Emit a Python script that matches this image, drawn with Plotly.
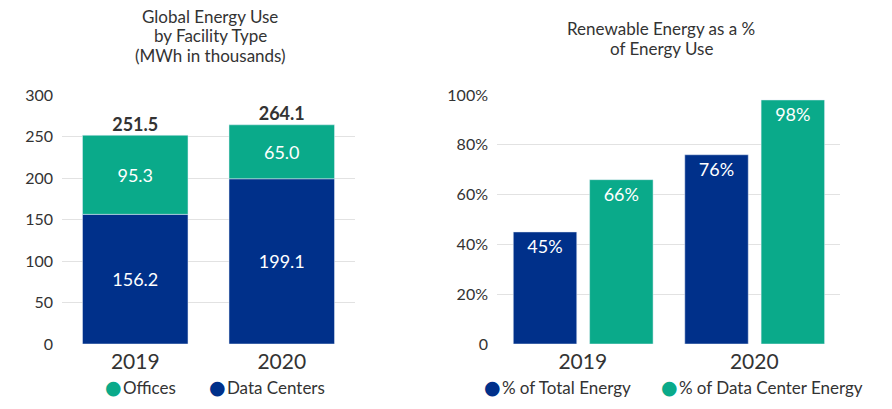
import plotly.graph_objects as go

years = ["2019", "2020"]
data_centers = [156.2, 199.1]
offices = [95.3, 65.0]
totals = [251.5, 264.1]

pct_total = [45, 76]
pct_dc = [66, 98]

left_ticks = [0, 50, 100, 150, 200, 250, 300]
right_ticks = [0, 20, 40, 60, 80, 100]
right_ticktext = ["0", "20%", "40%", "60%", "80%", "100%"]

left_title = ["Global Energy Use", "by Facility Type", "(MWh in thousands)"]
right_title = ["Renewable Energy as a %", "of Energy Use"]

NAVY = "#00308A"
GREEN = "#0AAA8A"
TXT = "#333333"
GRID = "#E2E2E2"
FONT = "Lato"

W, H = 892, 409
T, B = 95, 65
PH = H - T - B

fig = go.Figure()

# Left chart: stacked (offices sit on top of data centers)
fig.add_trace(go.Bar(x=years, y=data_centers, marker_color=NAVY, width=0.72,
                     text=[f"{v:.1f}" for v in data_centers], textposition="inside",
                     insidetextanchor="middle", textfont=dict(color="white", size=18, family=FONT),
                     showlegend=False, xaxis="x", yaxis="y", hoverinfo="skip"))
fig.add_trace(go.Bar(x=years, y=offices, base=data_centers, marker_color=GREEN, width=0.72,
                     text=[f"{v:.1f}" for v in offices], textposition="inside",
                     insidetextanchor="middle", textfont=dict(color="white", size=18, family=FONT),
                     showlegend=False, xaxis="x", yaxis="y", hoverinfo="skip"))
fig.add_trace(go.Scatter(x=years, y=totals, mode="text", text=[f"{v:.1f}" for v in totals],
                         textposition="top center",
                         textfont=dict(color=TXT, size=18, family=FONT, weight="bold"),
                         showlegend=False, xaxis="x", yaxis="y", hoverinfo="skip", cliponaxis=False))

# Right chart: grouped
fig.add_trace(go.Bar(x=years, y=pct_total, marker_color=NAVY, width=0.37, offset=-0.405,
                     text=[f"{v}%" for v in pct_total], textposition="inside",
                     insidetextanchor="end", textfont=dict(color="white", size=18, family=FONT),
                     showlegend=False, xaxis="x2", yaxis="y2", hoverinfo="skip"))
fig.add_trace(go.Bar(x=years, y=pct_dc, marker_color=GREEN, width=0.37, offset=0.04,
                     text=[f"{v}%" for v in pct_dc], textposition="inside",
                     insidetextanchor="end", textfont=dict(color="white", size=18, family=FONT),
                     showlegend=False, xaxis="x2", yaxis="y2", hoverinfo="skip"))

axis_common = dict(showline=False, zeroline=False, ticks="", fixedrange=True, automargin=False)

annotations = []
# titles, one line each
for i, line in enumerate(left_title):
    annotations.append(dict(text=line, x=210/W, y=1 + (T - [16, 36, 55][i]) / PH,
                            xref="paper", yref="paper", xanchor="center", yanchor="middle",
                            showarrow=False, font=dict(size=17, color=TXT, family=FONT)))
for i, line in enumerate(right_title):
    annotations.append(dict(text=line, x=661/W, y=1 + (T - [28, 48][i]) / PH,
                            xref="paper", yref="paper", xanchor="center", yanchor="middle",
                            showarrow=False, font=dict(size=17, color=TXT, family=FONT)))
# legends
legend_items = [("Offices", GREEN, 103), ("Data Centers", NAVY, 207),
                ("% of Total Energy", NAVY, 482), ("% of Data Center Energy", GREEN, 659)]
for name, col, px in legend_items:
    annotations.append(dict(
        text=(f"<span style='color:{col};font-size:19px;font-family:DejaVu Sans'>●</span>"
              f"<span style='font-size:5px'> </span>{name}"),
        x=px/W, y=-(387 - (H - B)) / PH, xref="paper", yref="paper",
        xanchor="left", yanchor="middle", showarrow=False,
        font=dict(size=17, color=TXT, family=FONT)))

fig.update_layout(
    width=W, height=H,
    margin=dict(l=0, r=0, t=T, b=B, autoexpand=False),
    paper_bgcolor="white", plot_bgcolor="white",
    barmode="overlay", showlegend=False,
    font=dict(family=FONT, color=TXT),
    xaxis=dict(domain=[62/W, 355/W], anchor="y", type="category",
               tickfont=dict(size=21, color=TXT), showgrid=False, ticklabelstandoff=3, **axis_common),
    yaxis=dict(domain=[0, 1], anchor="x", range=[0, 300], tickvals=left_ticks,
               tickfont=dict(size=16, color=TXT), showgrid=True, gridcolor=GRID,
               ticklabelstandoff=8, **axis_common),
    xaxis2=dict(domain=[497/W, 840/W], anchor="y2", type="category",
                tickfont=dict(size=21, color=TXT), showgrid=False, ticklabelstandoff=3, **axis_common),
    yaxis2=dict(domain=[0, 1], anchor="x2", range=[0, 100], tickvals=right_ticks,
                ticktext=right_ticktext, tickfont=dict(size=16, color=TXT), showgrid=True,
                gridcolor=GRID, ticklabelstandoff=8, **axis_common),
    annotations=annotations,
)

fig.write_html("out.html", config={"displayModeBar": False, "staticPlot": True},
               post_script="document.body.style.margin='0';document.body.style.overflow='hidden';")
